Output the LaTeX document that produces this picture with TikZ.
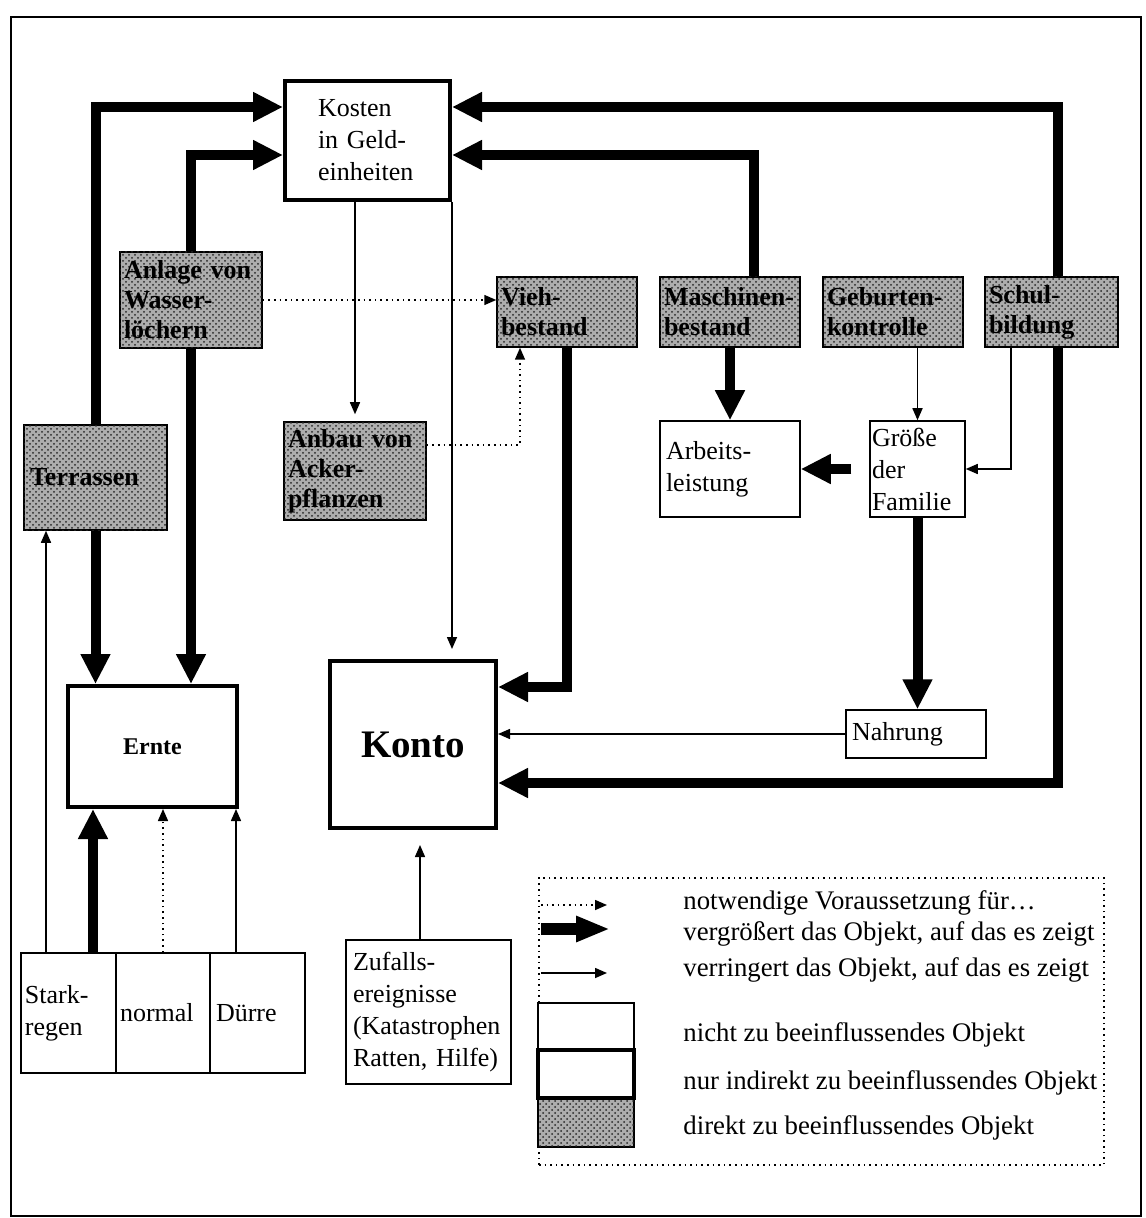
\documentclass[tikz,border=0pt]{standalone}
\usepackage{fontspec}
\setmainfont{Liberation Serif}
\usetikzlibrary{arrows.meta,patterns,calc}

\begin{document}
\begin{tikzpicture}[x=0.5pt,y=-0.5pt,
  plain/.style={draw, line width=0.75pt, fill=white, inner xsep=3pt, inner ysep=0pt,
    align=left, font=\fontsize{13}{16}\selectfont},
  heavy/.style={plain, line width=2pt},
  shaded/.style={plain, inner xsep=2pt, fill=black!32,
    postaction={pattern=crosshatch dots, pattern color=black!85},
    font=\bfseries\fontsize{13}{15}\selectfont},
  incr/.style={line width=5pt, -{Triangle[length=15pt,width=14pt]}},
  decr/.style={line width=0.75pt, -{Triangle[length=6pt,width=5pt]}},
  need/.style={line width=0.75pt, dash pattern=on 0.8pt off 2pt, -{Triangle[length=6pt,width=5pt]}},
  legtext/.style={anchor=base west, inner sep=0pt, font=\fontsize{13.4}{16}\selectfont},
]
\useasboundingbox (0,0) rectangle (1145,1218);
\draw[line width=0.75pt] (11,17) rectangle (1141,1216);

% ---- objects ----
\node[heavy, inner xsep=16.5pt, minimum width=82.5pt, minimum height=59.5pt, text width=49.5pt]
  (kosten) at (367.5,140.5) {Kosten\\in Geld-\\einheiten};
\node[shaded, minimum width=71pt, minimum height=48pt, text width=67pt]
  (anlage) at (191,300) {Anlage von\\Wasser-\\löchern};
\node[shaded, minimum width=70pt, minimum height=35pt, text width=66pt]
  (vieh) at (567,312) {Vieh-\\bestand};
\node[shaded, minimum width=70pt, minimum height=35pt, text width=66pt]
  (masch) at (730,312) {Maschinen-\\bestand};
\node[shaded, minimum width=70pt, minimum height=35pt, text width=66pt]
  (geb) at (893,312) {Geburten-\\kontrolle};
\node[shaded, minimum width=66.5pt, minimum height=35pt, text width=62.5pt]
  (schul) at (1051.5,312) {Schul-\\bildung};
\node[shaded, inner xsep=3pt, minimum width=71.5pt, minimum height=52.5pt, text width=65.5pt]
  (terr) at (95.5,477.5) {Terrassen};
\node[shaded, minimum width=71pt, minimum height=49pt, text width=67pt]
  (anbau) at (355,471) {Anbau von\\Acker-\\pflanzen};
\node[plain, minimum width=70pt, minimum height=48pt, text width=64pt]
  (arbeit) at (730,469) {Arbeits-\\leistung\\[8pt]};
\node[plain, inner xsep=1pt, minimum width=47.5pt, minimum height=48pt, text width=45.5pt,
  font=\fontsize{13}{16}\selectfont]
  (groesse) at (917.5,469) {Größe\\der\\Familie};
\node[heavy, minimum width=84.5pt, minimum height=60.5pt, align=center,
  font=\bfseries\fontsize{12}{14}\selectfont]
  (ernte) at (152.5,746.5) {Ernte};
\node[heavy, minimum width=83pt, minimum height=83.5pt, align=center,
  font=\bfseries\fontsize{19.5}{22}\selectfont]
  (konto) at (413,744.5) {Konto};
\node[plain, minimum width=70pt, minimum height=24pt, text width=64pt]
  (nahrung) at (916,734) {Nahrung};
\node[plain, inner xsep=2pt, minimum width=47.5pt, minimum height=60pt, text width=43.5pt]
  (stark) at (68.5,1013) {Stark-\\regen};
\node[plain, inner xsep=2pt, minimum width=47pt, minimum height=60pt, text width=43pt]
  (normal) at (163,1013) {normal};
\node[plain, minimum width=47.5pt, minimum height=60pt, text width=41.5pt]
  (duerre) at (257.5,1013) {Dürre};
\node[plain, inner xsep=3.5pt, minimum width=82.5pt, minimum height=72pt, text width=75.5pt]
  (zufall) at (428.5,1012) {Zufalls-\\ereignisse\\(Katastrophen\\Ratten, Hilfe)};

% ---- connectors: increasing ----
\draw[incr] (terr.north) |- ([yshift=16.75pt]kosten.west);
\draw[incr] (anlage.north) |- ([yshift=-7.25pt]kosten.west);
\coordinate (schtop) at ([xshift=3.25pt]schul.north);
\draw[incr] (schtop) |- ([yshift=16.75pt]kosten.east);
\coordinate (matop) at ([xshift=12pt]masch.north);
\draw[incr] (matop) |- ([yshift=-7.25pt]kosten.east);
\draw[incr] (terr.south) -- (terr.south |- ernte.north);
\draw[incr] (anlage.south) -- (anlage.south |- ernte.north);
\draw[incr] (vieh.south) |- ([yshift=28.75pt]konto.east);
\draw[incr] (masch.south) -- (arbeit.north);
\draw[incr, shorten <=9pt] (groesse.west) -- (arbeit.east);
\draw[incr] (groesse.south) -- (groesse.south |- nahrung.north);
\coordinate (schbot) at ([xshift=3.25pt]schul.south);
\draw[incr] (schbot) |- ([yshift=-19.25pt]konto.east);
\coordinate (sktop) at ([xshift=12.25pt]stark.north);
\draw[incr] (sktop) -- (sktop |- ernte.south);

% ---- connectors: decreasing ----
\draw[decr, shorten >=3.5pt] (kosten.south -| anbau.north) -- (anbau.north);
\draw[decr, shorten >=5pt] (kosten.south east) -- (kosten.south east |- konto.north);
\draw[decr] (geb.south -| groesse.north) -- (groesse.north);
\coordinate (schleft) at ([xshift=-20.25pt]schul.south);
\draw[decr] (schleft) |- (groesse.east);
\draw[decr] (nahrung.west) -- (nahrung.west -| konto.east);
\coordinate (stleft) at ([xshift=-11.25pt]stark.north);
\draw[decr] (stleft) -- (stleft |- terr.south);
\coordinate (dutop) at ([xshift=-10.75pt]duerre.north);
\draw[decr] (dutop) -- (dutop |- ernte.south);
\coordinate (zutop) at ([xshift=-4.25pt]zufall.north);
\draw[decr, shorten >=7.5pt] (zutop) -- (zutop |- konto.south);

% ---- connectors: necessary condition ----
\draw[need] (anlage.east) -- (anlage.east -| vieh.west);
\coordinate (anr) at ([yshift=13pt]anbau.east);
\coordinate (vib) at ([xshift=-23.5pt]vieh.south);
\draw[need] (anr) -| (vib);
\draw[need] (normal.north) -- (normal.north |- ernte.south);

% ---- legend ----
\node[draw, line width=0.75pt, dash pattern=on 0.8pt off 2pt, minimum width=282.5pt,
  minimum height=143.5pt, inner sep=0pt] (legend) at (821.5,1021.5) {};
\coordinate (ld1) at (541,905);  \coordinate (le1) at (607,905);
\coordinate (ld2) at (541,929);  \coordinate (le2) at (610,929);
\coordinate (ld3) at (541,973);  \coordinate (le3) at (607,973);
\draw[need] (ld1) -- (le1);
\draw[line width=6pt, -{Triangle[length=17pt,width=12pt]}] (ld2) -- (le2);
\draw[decr] (ld3) -- (le3);
\node[plain, minimum width=48pt, minimum height=23.5pt] (lgplain) at (586,1026.5) {};
\node[shaded, minimum width=48pt, minimum height=24.5pt] (lgshade) at (586,1122.5) {};
\node[heavy, minimum width=48pt, minimum height=24pt] (lgheavy) at (586,1074) {};
\node[legtext] (t1) at (683,909) {notwendige Voraussetzung für\dots};
\node[legtext] (t2) at (683,940) {vergrößert das Objekt, auf das es zeigt};
\node[legtext] (t3) at (683,976) {verringert das Objekt, auf das es zeigt};
\node[legtext] (t4) at (683,1041) {nicht zu beeinflussendes Objekt};
\node[legtext] (t5) at (683,1089) {nur indirekt zu beeinflussendes Objekt};
\node[legtext] (t6) at (683,1134) {direkt zu beeinflussendes Objekt};
\end{tikzpicture}
\end{document}
